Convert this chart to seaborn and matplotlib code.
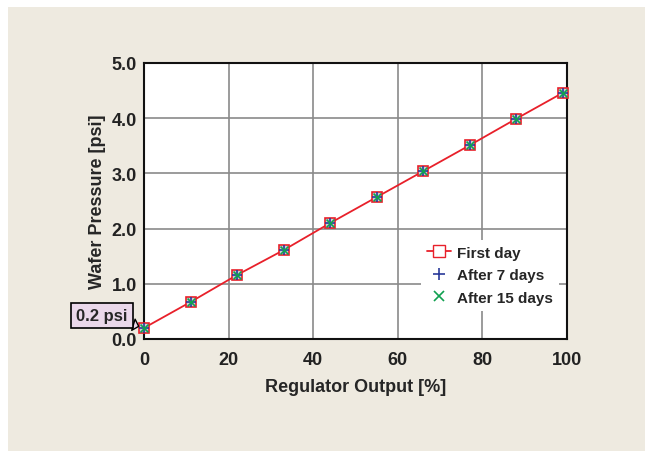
import numpy as np
import pandas as pd
import seaborn as sns
import matplotlib.pyplot as plt
from matplotlib.patches import Rectangle
from matplotlib.lines import Line2D

# data
regulator_output = [0, 11, 22, 33, 44, 55, 66, 77, 88, 99]
first_day = [0.20, 0.67, 1.16, 1.61, 2.10, 2.57, 3.04, 3.51, 3.99, 4.46]
after_7_days = [0.20, 0.67, 1.16, 1.61, 2.10, 2.57, 3.04, 3.51, 3.99, 4.46]
after_15_days = [0.20, 0.67, 1.16, 1.61, 2.10, 2.57, 3.04, 3.51, 3.99, 4.46]
x_ticks = [0, 20, 40, 60, 80, 100]
y_ticks = [0.0, 1.0, 2.0, 3.0, 4.0, 5.0]

df = pd.DataFrame({'x': regulator_output, 'first': first_day,
                   'd7': after_7_days, 'd15': after_15_days})

sns.set_style('white')
plt.rcParams['font.family'] = ['Liberation Sans', 'DejaVu Sans']
plt.rcParams['font.weight'] = 'bold'

fig = plt.figure(figsize=(6.45, 4.52), dpi=100)
fig.patch.set_facecolor('white')
fig.patches.append(Rectangle((8 / 645, 0), 1, (452 - 8) / 452, transform=fig.transFigure,
                             facecolor='#eeeae0', edgecolor='none', zorder=-10))

ax = fig.add_axes([144 / 645, 1 - 340 / 452, 423 / 645, 276 / 452])
ax.set_facecolor('white')

sns.lineplot(data=df, x='x', y='first', ax=ax, color='#e8202a', lw=1.3,
             marker='s', markersize=7.5, markerfacecolor='#c8d0d8',
             markeredgecolor='#e8202a', markeredgewidth=1.2, zorder=3, clip_on=False)
sns.scatterplot(data=df, x='x', y='d7', ax=ax, marker='+', s=45, color='#2a3a9a',
                linewidth=1.2, zorder=4, clip_on=False)
sns.scatterplot(data=df, x='x', y='d15', ax=ax, marker='x', s=32, color='#10a050',
                linewidth=1.2, zorder=5, clip_on=False)

ax.set_xlim(0, 100)
ax.set_ylim(0, 5)
ax.set_xticks(x_ticks)
ax.set_yticks(y_ticks)
ax.set_yticklabels([f'{v:.1f}' for v in y_ticks])
ax.tick_params(labelsize=13, length=0, colors='#222222')
ax.tick_params(axis='x', pad=9)
ax.tick_params(axis='y', pad=5)
ax.grid(True, color='#8a8a8a', lw=1.2)
for s in ax.spines.values():
    s.set_color('#111111')
    s.set_linewidth(1.5)
ax.set_xlabel('Regulator Output [%]', fontsize=13, fontweight='bold', labelpad=7)
ax.set_ylabel('Wafer Pressure [psi]', fontsize=13, fontweight='bold', labelpad=4)

handles = [
    Line2D([], [], color='#e8202a', lw=1.3, marker='s', markersize=8,
           markerfacecolor='white', markeredgecolor='#e8202a'),
    Line2D([], [], ls='none', marker='+', markersize=9, color='#2a3a9a', mew=1.2),
    Line2D([], [], ls='none', marker='x', markersize=7, color='#10a050', mew=1.2),
]
leg = ax.legend(handles, ['First day', 'After 7 days', 'After 15 days'],
                loc='lower right', bbox_to_anchor=(1.0, 0.075), frameon=True,
                fontsize=11, handlelength=1.6, handletextpad=0.4, labelspacing=0.55)
leg.get_frame().set_facecolor('white')
leg.get_frame().set_edgecolor('none')
leg.get_frame().set_alpha(1)

ax.annotate('0.2 psi', xy=(0, 0.2), xytext=(-0.099, 0.43), textcoords=('axes fraction', 'data'),
            fontsize=12, fontweight='bold', ha='center', va='center', annotation_clip=False,
            bbox=dict(boxstyle='square,pad=0.3', facecolor='#ead8ea', edgecolor='black', lw=1.2),
            arrowprops=dict(arrowstyle='wedge,tail_width=0.7,shrink_factor=0.5',
                            facecolor='#ead8ea', edgecolor='black', lw=1.0,
                            shrinkA=0, shrinkB=4))

fig.savefig('out.png', dpi=100)
